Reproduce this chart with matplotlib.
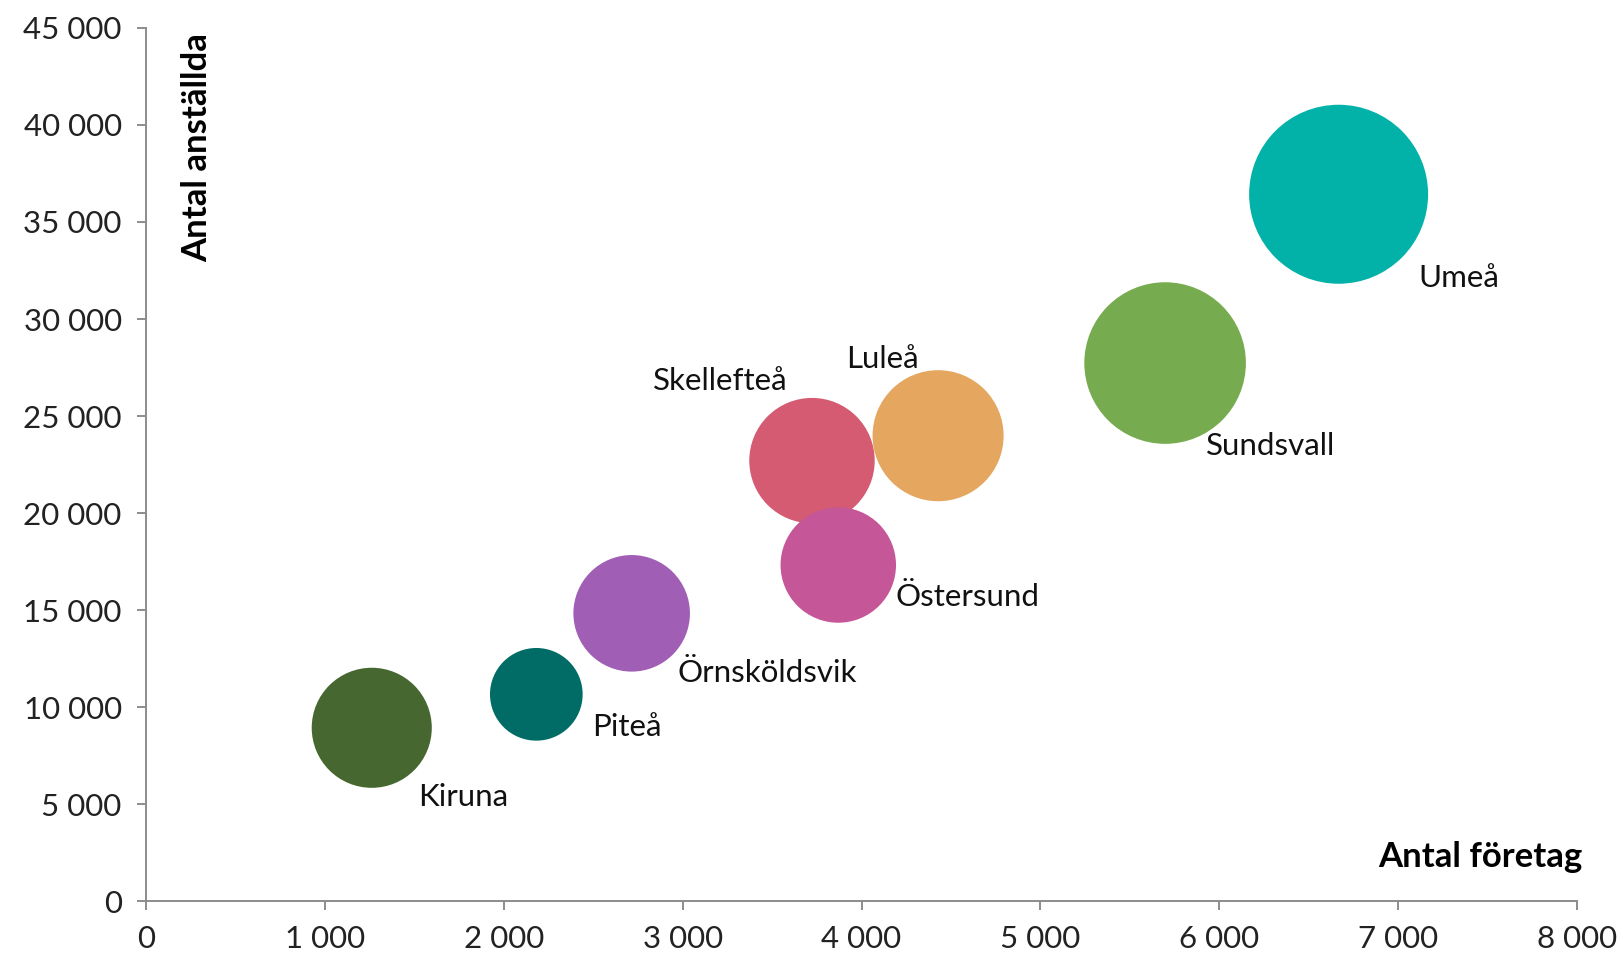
import matplotlib.pyplot as plt
from matplotlib.ticker import FuncFormatter, MultipleLocator

# Data
cities = ['Umeå', 'Sundsvall', 'Luleå', 'Skellefteå', 'Östersund',
          'Örnsköldsvik', 'Piteå', 'Kiruna']
antal_foretag = [6667, 5697, 4428, 3723, 3870, 2715, 2182, 1262]
antal_anstallda = [36430, 27730, 23985, 22700, 17320, 14830, 10655, 8930]
# bubble size variable (relative, Umeå = 100)
bubble_value = [100, 81.5, 53.6, 49.1, 41.6, 42.4, 26.8, 45.0]

colors = ['#02B2A9', '#76AC4F', '#E5A75F', '#D45B71', '#C55697',
          '#A05EB5', '#006C65', '#466830']
# label offsets in pixels relative to bubble centre (dx, dy), alignment
label_offsets = [(80, -84, 'left'), (41, -83, 'left'), (-92, 77, 'left'),
                 (-24, 80, 'right'), (57, -32, 'left'), (46, -60, 'left'),
                 (56, -33, 'left'), (46, -69, 'left')]

plt.rcParams['font.family'] = ['Lato', 'DejaVu Sans']

dpi = 100
fig = plt.figure(figsize=(16.24, 9.55), dpi=dpi)
ax = fig.add_axes([0.0899, 0.0565, 0.9711 - 0.0899, 0.9707 - 0.0565])

# largest bubble has radius ~89.5 px
max_diam_pt = 2 * 89.5 * 72 / dpi
sizes = [v / max(bubble_value) * max_diam_pt ** 2 for v in bubble_value]

ax.scatter(antal_foretag, antal_anstallda, s=sizes, c=colors,
           edgecolors='none', zorder=3)

for name, x, y, (dx, dy, ha) in zip(cities, antal_foretag, antal_anstallda,
                                     label_offsets):
    ax.annotate(name, (x, y), xytext=(dx, dy), textcoords='offset pixels',
                ha=ha, va='center', fontsize=22.5, color='#111111', zorder=4)

ax.set_xlim(0, 8000)
ax.set_ylim(0, 45000)
ax.xaxis.set_major_locator(MultipleLocator(1000))
ax.yaxis.set_major_locator(MultipleLocator(5000))
fmt = FuncFormatter(lambda v, p: f'{v:,.0f}'.replace(',', ' '))
ax.xaxis.set_major_formatter(fmt)
ax.yaxis.set_major_formatter(fmt)

for side in ['top', 'right']:
    ax.spines[side].set_visible(False)
for side in ['left', 'bottom']:
    ax.spines[side].set_color('#8c8c8c')
    ax.spines[side].set_linewidth(1.4)
ax.tick_params(axis='both', colors='#8c8c8c', length=6.5, width=1.4,
               labelsize=22.5, labelcolor='#222222', pad=11)

ax.text(0.0356, 0.994, 'Antal anställda', transform=ax.transAxes,
        rotation=90, ha='center', va='top', fontsize=25,
        fontweight='bold', color='black')
ax.text(1.004, 0.0504, 'Antal företag', transform=ax.transAxes,
        ha='right', va='center', fontsize=25, fontweight='bold',
        color='black')

fig.savefig('out.png', dpi=dpi)
